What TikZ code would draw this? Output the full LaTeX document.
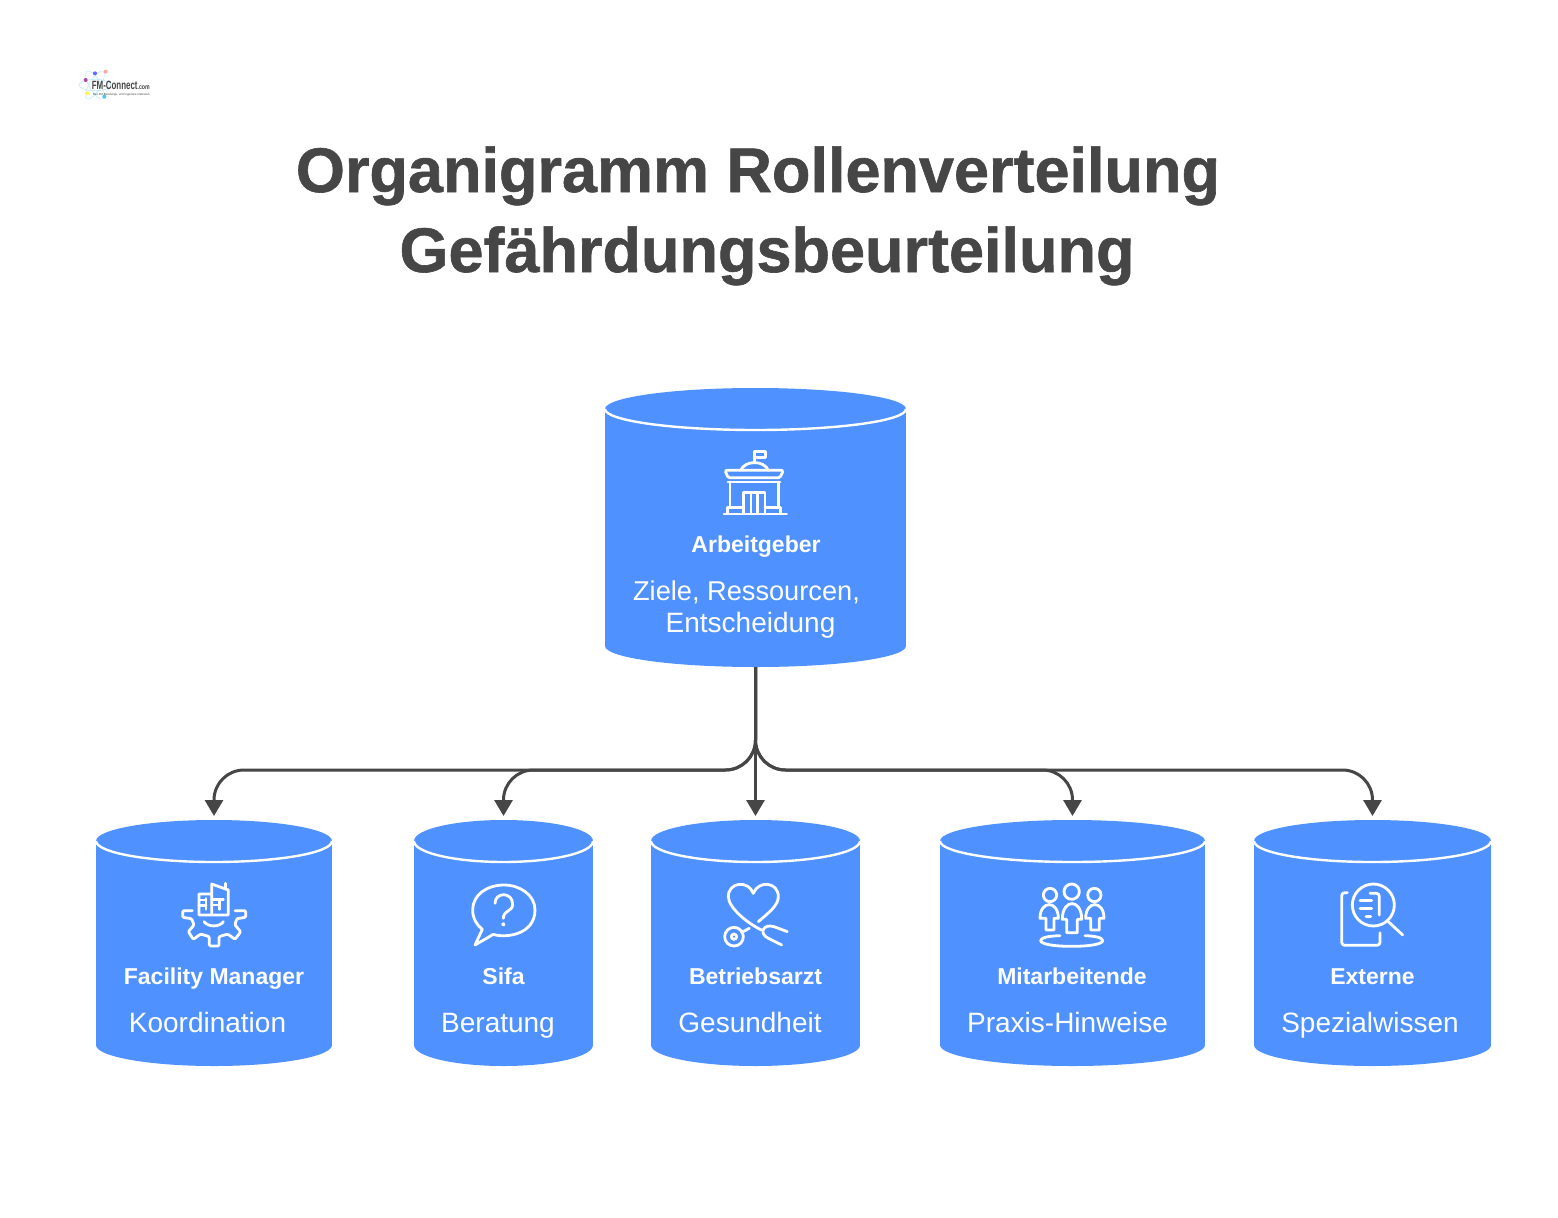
\documentclass[tikz,border=0pt]{standalone}
\usepackage{fontspec}
\setmainfont{Liberation Sans}
\newfontfamily\titlefont[BoldFeatures={FakeBold=1}]{Liberation Sans}
\usetikzlibrary{arrows.meta,calc}
\definecolor{cylblue}{HTML}{4F91FF}
\definecolor{inkgrey}{HTML}{464646}
\newcommand\fs[1]{\fontsize{#1}{#1}\selectfont}
\newcommand\cylnode[5]{% name,left,right,top,bottom
  \pgfmathsetmacro\cylCx{(#2+#3)/2}\pgfmathsetmacro\cylRx{(#3-#2)/2}
  \pgfmathsetmacro\cylTy{#4+21}\pgfmathsetmacro\cylBy{#5-21}
  \pgfmathsetmacro\cylKx{\cylRx*0.5523}\pgfmathsetmacro\cylLow{\cylTy+21}\pgfmathsetmacro\cylKy{\cylTy+11.6}
  \pgfmathsetmacro\cylCy{(#4+#5)/2}\pgfmathsetmacro\cylW{#3-#2}\pgfmathsetmacro\cylH{#5-#4}
  \fill[cylblue] (#2,\cylTy) rectangle (#3,\cylBy);
  \fill[cylblue] (\cylCx,\cylTy) ellipse[x radius=\cylRx,y radius=21];
  \fill[cylblue] (\cylCx,\cylBy) ellipse[x radius=\cylRx,y radius=21];
  \draw[cylrim] (#2,\cylTy) .. controls (#2,\cylKy) and ({\cylCx-\cylKx},\cylLow) .. (\cylCx,\cylLow)
     .. controls ({\cylCx+\cylKx},\cylLow) and (#3,\cylKy) .. (#3,\cylTy);
  \node[cylframe,minimum width=\cylW pt,minimum height=\cylH pt] (#1) at (\cylCx,\cylCy) {};
}
\tikzset{
  x=1pt,y=-1pt,
  cylrim/.style={draw=white,line width=2.4pt},
  cylframe/.style={inner sep=0pt,outer sep=0pt},
  icon/.style={draw=white,line width=2.8pt,line cap=round,line join=round,fill=none},
  titletext/.style={text=inkgrey,anchor=base,font=\titlefont\bfseries\fs{63},inner sep=0pt},
  namelabel/.style={text=white,anchor=base,font=\bfseries\fs{23},inner sep=0pt},
  bodylabel/.style={text=white,anchor=base,font=\fs{28},inner sep=0pt},
  conn/.style={draw=inkgrey,line width=3pt,rounded corners=30pt,-{Triangle[length=16pt,width=18pt]},shorten >=4pt},
  iconat/.style={shift={#1},scale=1/3},
}
\begin{document}
\begin{tikzpicture}
\useasboundingbox (0,0) rectangle (1558,1218);
\fill[white] (0,0) rectangle (1558,1218);

% logo
\begin{scope}[iconat={(60,50)}]
  \foreach \a in {0,60,120}{\draw[cyan!25,line width=.6pt,rotate around={\a:(105,105)}] (105,105) ellipse[x radius=48,y radius=17];}
  \fill[violet!70] (77,90) circle[radius=6];
  \fill[blue!60] (105,70) circle[radius=6];
  \fill[red!35] (137,65) circle[radius=6];
  \fill[yellow!70] (83,130) circle[radius=6];
  \fill[cyan!70] (133,140) circle[radius=6];
  \node[anchor=base west,inner sep=0pt,text=inkgrey] (logotext) at (95,118) {\bfseries\fs{12}\scalebox{.66}[1]{FM-Connect}\fs{7}\scalebox{.75}[1]{.com}};
  \node[anchor=base west,inner sep=0pt,text=inkgrey] (logosub) at (98,136) {\fs{2.9}Das FM-Beratungs- und Ingenieur-Netzwerk};
\end{scope}

% title
\node[titletext] (title1) at (758,192) {Organigramm Rollenverteilung};
\node[titletext] (title2) at (767,272) {Gefährdungsbeurteilung};

% cylinders
\cylnode{boss}{605}{906}{388}{667}
\cylnode{fm}{96}{332}{820}{1066}
\cylnode{sifa}{414}{593}{820}{1066}
\cylnode{arzt}{651}{860}{820}{1066}
\cylnode{staff}{940}{1205}{820}{1066}
\cylnode{ext}{1254}{1491}{820}{1066}

% connectors
\coordinate (bus) at (756,770);
\draw[conn] (boss.south) -- (boss.south |- bus) -- (fm.north |- bus) -- (fm.north);
\draw[conn] (boss.south) -- (boss.south |- bus) -- (sifa.north |- bus) -- (sifa.north);
\draw[conn] (boss.south) -- (boss.south |- arzt.north);
\draw[conn] (boss.south) -- (boss.south |- bus) -- (staff.north |- bus) -- (staff.north);
\draw[conn] (boss.south) -- (boss.south |- bus) -- (ext.north |- bus) -- (ext.north);

% labels
\node[namelabel] (n0) at (756,552) {Arbeitgeber};
\node[bodylabel,font=\fs{27.2}] (b0a) at (746.5,600) {Ziele, Ressourcen,};
\node[bodylabel] (b0b) at (750.5,632) {Entscheidung};
\node[namelabel] (n1) at (214,984) {Facility Manager};
\node[bodylabel] (b1) at (207.5,1032) {Koordination};
\node[namelabel] (n2) at (503.5,984) {Sifa};
\node[bodylabel] (b2) at (498,1032) {Beratung};
\node[namelabel] (n3) at (755.5,984) {Betriebsarzt};
\node[bodylabel] (b3) at (750,1032) {Gesundheit};
\node[namelabel] (n4) at (1072,984) {Mitarbeitende};
\node[bodylabel] (b4) at (1067.5,1032) {Praxis-Hinweise};
\node[namelabel] (n5) at (1372.5,984) {Externe};
\node[bodylabel] (b5) at (1370,1032) {Spezialwissen};

% icon: building
\begin{scope}[iconat={(690,430)}]
  \draw[icon] (193,95) -- (193,65) -- (226,65) -- (226,82) -- (193,82);
  \draw[icon] (152,121) .. controls (165,90) and (222,90) .. (235,121);
  \draw[icon,rounded corners=1.5pt] (105,121) -- (280,121) -- (270,143) -- (114,143) -- cycle;
  \draw[icon] (114,156) -- (270,156);
  \draw[icon] (120,156) -- (120,230) (265,156) -- (265,230);
  \draw[icon] (160,250) -- (160,187) -- (225,187) -- (225,250) (183,187) -- (183,250) (202,187) -- (202,250);
  \draw[icon] (112,250) -- (112,232) -- (160,232) (225,232) -- (272,232) -- (272,250);
  \draw[icon] (102,252) -- (290,252);
\end{scope}

% icon: gear with building
\begin{scope}[iconat={(160,870)}]
  \draw[icon] (155,72) -- (117,72) -- (117,135) -- (205,135) -- (205,60) -- (155,42) -- (155,135);
  \draw[icon] (197,40) -- (197,56);
  \draw[icon] (117,90) -- (138,90) (117,107) -- (138,107) (138,85) -- (138,118);
  \draw[icon] (155,88) -- (190,88) (155,105) -- (178,105) (178,88) -- (178,118);
  \draw[icon] (132,155) .. controls (145,172) and (178,172) .. (190,155);
  \draw[icon,rounded corners=1.2pt] (97,122) -- (68,122) -- (68,142) -- (95,146) -- (102,165) -- (85,185) -- (100,208) -- (122,192) -- (148,200) -- (148,228) -- (177,228) -- (177,200) -- (203,192) -- (225,208) -- (242,185) -- (225,165) -- (230,146) -- (257,142) -- (257,122) -- (225,122);
\end{scope}

% icon: question bubble
\begin{scope}[iconat={(450,870)}]
  \draw[icon] (130,193) .. controls (165,205) and (255,195) .. (255,120) .. controls (255,75) and (210,45) .. (162,45) .. controls (110,45) and (68,75) .. (68,120) .. controls (68,145) and (80,165) .. (97,178) -- (75,225) -- cycle;
  \draw[icon] (135,100) .. controls (135,65) and (188,65) .. (188,103) .. controls (188,125) and (160,120) .. (160,145);
  \fill[white] (160,163) circle[radius=6];
\end{scope}

% icon: heart and stethoscope
\begin{scope}[iconat={(700,870)}]
  \draw[icon] (175,155) .. controls (210,125) and (235,105) .. (235,80) .. controls (235,35) and (175,30) .. (160,70) .. controls (145,30) and (85,35) .. (85,80) .. controls (85,115) and (150,165) .. (185,180);
  \draw[icon] (262,185) -- (222,170) .. controls (190,160) and (175,190) .. (205,205) -- (245,225);
  \draw[icon] (102,200) circle[radius=28];
  \draw[icon] (102,200) circle[radius=8];
  \draw[icon] (125,187) -- (148,175);
\end{scope}

% icon: people
\begin{scope}[iconat={(1020,870)}]
  \draw[icon] (155,65) circle[radius=23];
  \draw[icon] (90,75) circle[radius=20];
  \draw[icon] (223,75) circle[radius=20];
  \draw[icon] (127,148) .. controls (127,85) and (185,85) .. (185,148) -- (172,148) -- (172,188) -- (140,188) -- (140,148) -- cycle;
  \draw[icon] (60,145) .. controls (60,90) and (115,90) .. (115,145) -- (102,145) -- (102,180) -- (78,180) -- (78,145) -- cycle;
  \draw[icon] (197,145) .. controls (197,90) and (252,90) .. (252,145) -- (238,145) -- (238,180) -- (212,180) -- (212,145) -- cycle;
  \draw[icon] (120,197) .. controls (85,198) and (62,203) .. (62,212) .. controls (62,222) and (100,229) .. (155,229) .. controls (210,229) and (248,222) .. (248,212) .. controls (248,203) and (225,198) .. (195,197);
\end{scope}

% icon: document and magnifier
\begin{scope}[iconat={(1320,870)}]
  \draw[icon,rounded corners=3pt] (82,68) -- (65,68) -- (65,226) -- (180,226) -- (180,188);
  \draw[icon] (160,105) circle[radius=63];
  \draw[icon] (120,92) -- (155,92) (120,115) -- (155,115) (138,140) -- (152,140);
  \draw[icon,rounded corners=3pt] (150,70) -- (178,70) -- (178,135);
  \draw[icon] (205,155) -- (248,195);
\end{scope}
\end{tikzpicture}
\end{document}
